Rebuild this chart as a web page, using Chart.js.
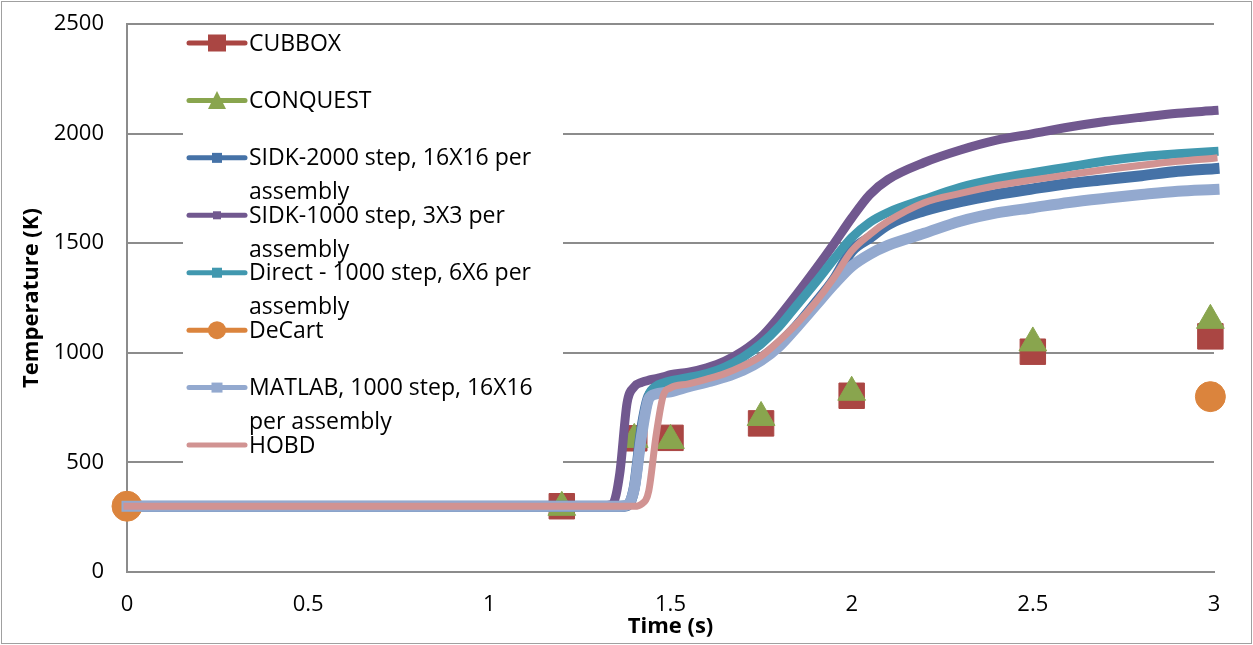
<!DOCTYPE html>
<html>
<head>
<meta charset="utf-8">
<title>Temperature vs Time</title>
<script src="https://cdn.jsdelivr.net/npm/chart.js@4/dist/chart.umd.min.js"></script>
<style>
  html, body { margin: 0; padding: 0; background: #fff; }
  #wrap { width: 1253px; height: 645px; }
</style>
</head>
<body>
<div id="wrap"><canvas id="chart" width="1253" height="645"></canvas></div>
<script>
// Common time grid (s) for the simulated temperature histories
const timeGrid = [0, 1.30, 1.34, 1.36, 1.38, 1.40, 1.42, 1.44, 1.46, 1.48, 1.50, 1.55, 1.60, 1.65, 1.70, 1.75,
                  1.80, 1.85, 1.90, 1.95, 2.00, 2.05, 2.10, 2.20, 2.30, 2.40, 2.50, 2.60, 2.70, 2.80, 2.90, 3.00];

// Temperature (K) on timeGrid
const sidk2000 = [300, 300, 300, 300, 303, 385, 645, 800, 828, 838, 843, 855, 872, 895, 930, 975,
                  1040, 1125, 1225, 1330, 1465, 1525, 1585, 1648, 1690, 1722, 1748, 1772, 1790, 1808, 1828, 1840];
const sidk1000 = [300, 300, 310, 450, 770, 845, 865, 875, 882, 890, 900, 912, 932, 962, 1008, 1072,
                  1165, 1270, 1380, 1495, 1615, 1722, 1790, 1868, 1925, 1970, 2000, 2030, 2055, 2075, 2093, 2105];
const direct1000 = [300, 300, 300, 300, 302, 380, 640, 805, 848, 862, 872, 888, 905, 935, 980, 1040,
                    1120, 1220, 1320, 1425, 1525, 1595, 1640, 1700, 1755, 1793, 1822, 1848, 1875, 1895, 1908, 1918];
const matlab1000 = [300, 300, 300, 300, 305, 380, 620, 790, 812, 818, 822, 845, 866, 889, 920, 965,
                    1030, 1120, 1215, 1310, 1395, 1450, 1490, 1545, 1600, 1638, 1662, 1686, 1705, 1722, 1737, 1745];
const hobd = [300, 300, 300, 300, 300, 300, 310, 370, 620, 805, 840, 858, 880, 905, 940, 985,
              1055, 1135, 1230, 1340, 1465, 1540, 1600, 1685, 1727, 1763, 1789, 1813, 1836, 1856, 1874, 1888];

// Reference code results
const benchTime = [1.2, 1.4, 1.5, 1.75, 2.0, 2.5, 2.99];
const cubbox = [300, 610, 612, 678, 804, 1005, 1075];
const conquest = [295, 605, 600, 705, 820, 1045, 1148];
const decartTime = [0, 2.99];
const decart = [300, 800];

// Axis ticks
const xTicks = [0, 0.5, 1, 1.5, 2, 2.5, 3];
const yTicks = [0, 500, 1000, 1500, 2000, 2500];

const FONT = '"Open Sans", "Liberation Sans", sans-serif';

const pts = (xs, ys) => xs.map((x, i) => ({ x: x, y: ys[i] }));

const curve = (label, values, color, width, order) => ({
  label: label,
  data: pts(timeGrid, values),
  showLine: true,
  borderColor: color,
  backgroundColor: color,
  borderWidth: width,
  borderCapStyle: 'square',
  borderJoinStyle: 'round',
  cubicInterpolationMode: 'monotone',
  pointRadius: 0,
  pointHoverRadius: 0,
  clip: false,
  order: order
});

const markers = (label, xs, ys, color, style, radius, order) => ({
  label: label,
  data: pts(xs, ys),
  showLine: false,
  pointStyle: style,
  pointRadius: radius,
  pointHoverRadius: radius,
  pointBackgroundColor: color,
  pointBorderColor: color,
  pointBorderWidth: 1,
  borderColor: color,
  backgroundColor: color,
  clip: false,
  order: order
});

const COLORS = {
  cubbox: '#AA4643',
  conquest: '#89A54E',
  sidk2000: '#4572A7',
  sidk1000: '#71588F',
  direct: '#4198AF',
  decart: '#DB843D',
  matlab: '#93A9CF',
  hobd: '#D19392'
};

const datasets = [
  markers('CUBBOX', benchTime, cubbox, COLORS.cubbox, 'rect', 18, 8),
  markers('CONQUEST', benchTime, conquest, COLORS.conquest, 'triangle', 16, 7),
  curve('SIDK-2000 step, 16X16 per assembly', sidk2000, COLORS.sidk2000, 11, 6),
  curve('SIDK-1000 step, 3X3 per assembly', sidk1000, COLORS.sidk1000, 9, 5),
  curve('Direct - 1000 step, 6X6 per assembly', direct1000, COLORS.direct, 9, 4),
  markers('DeCart', decartTime, decart, COLORS.decart, 'circle', 15, 3),
  curve('MATLAB, 1000 step, 16X16 per assembly', matlab1000, COLORS.matlab, 11, 2),
  curve('HOBD', hobd, COLORS.hobd, 7, 1)
];

// Legend entries: wrapped text lines and the marker drawn on the sample line
const legendEntries = [
  { lines: ['CUBBOX'], color: COLORS.cubbox, marker: 'square', w: 18, h: 17 },
  { lines: ['CONQUEST'], color: COLORS.conquest, marker: 'triangle', w: 18, h: 17 },
  { lines: ['SIDK-2000 step, 16X16 per', 'assembly'], color: COLORS.sidk2000, marker: 'square', w: 10, h: 10 },
  { lines: ['SIDK-1000 step, 3X3 per', 'assembly'], color: COLORS.sidk1000, marker: 'square', w: 8, h: 8 },
  { lines: ['Direct - 1000 step, 6X6 per', 'assembly'], color: COLORS.direct, marker: 'square', w: 10, h: 10 },
  { lines: ['DeCart'], color: COLORS.decart, marker: 'circle', w: 18, h: 18 },
  { lines: ['MATLAB, 1000 step, 16X16', 'per assembly'], color: COLORS.matlab, marker: 'square', w: 11, h: 10 },
  { lines: ['HOBD'], color: COLORS.hobd, marker: null }
];

const insetLegend = {
  id: 'insetLegend',
  afterDraw(chart) {
    const ctx = chart.ctx;
    const area = chart.chartArea;
    const boxX = area.left + 56, boxY = area.top + 2;
    const boxW = 563 - boxX, boxH = 470 - boxY;
    const lineX0 = area.left + 62, lineX1 = area.left + 118;
    const textX = area.left + 122;
    const firstY = area.top + 19, step = 57.43, lineGap = 34;
    ctx.save();
    ctx.fillStyle = '#ffffff';
    ctx.fillRect(boxX, boxY, boxW, boxH);
    ctx.font = '23px ' + FONT;
    ctx.textAlign = 'left';
    ctx.textBaseline = 'middle';
    legendEntries.forEach((e, i) => {
      const y = firstY + i * step;
      ctx.strokeStyle = e.color;
      ctx.lineWidth = 5;
      ctx.lineCap = 'round';
      ctx.beginPath();
      ctx.moveTo(lineX0, y);
      ctx.lineTo(lineX1, y);
      ctx.stroke();
      const mx = (lineX0 + lineX1) / 2;
      ctx.fillStyle = e.color;
      if (e.marker === 'square') {
        ctx.fillRect(mx - e.w / 2, y - e.h / 2, e.w, e.h);
      } else if (e.marker === 'triangle') {
        ctx.beginPath();
        ctx.moveTo(mx, y - e.h / 2 - 1);
        ctx.lineTo(mx + e.w / 2, y + e.h / 2);
        ctx.lineTo(mx - e.w / 2, y + e.h / 2);
        ctx.closePath();
        ctx.fill();
      } else if (e.marker === 'circle') {
        ctx.beginPath();
        ctx.arc(mx, y, e.w / 2, 0, Math.PI * 2);
        ctx.fill();
      }
      ctx.fillStyle = '#000000';
      e.lines.forEach((t, k) => ctx.fillText(t, textX, y + 1 + k * lineGap));
    });
    ctx.restore();
  }
};

const frame = {
  id: 'frame',
  afterDraw(chart) {
    const ctx = chart.ctx;
    ctx.save();
    ctx.strokeStyle = '#a0a0a0';
    ctx.lineWidth = 1;
    ctx.strokeRect(1.5, 1.5, chart.width - 3, chart.height - 3);
    ctx.restore();
  }
};

// Fixed axis box sizes; overflow padding is covered by the layout padding
const fixBox = (size, horizontal) => (scale) => {
  if (horizontal) scale.height = size; else scale.width = size;
  scale.paddingTop = 0; scale.paddingBottom = 0;
  scale.paddingLeft = 0; scale.paddingRight = 0;
};

new Chart(document.getElementById('chart'), {
  type: 'scatter',
  data: { datasets: datasets },
  plugins: [insetLegend, frame],
  options: {
    responsive: false,
    animation: false,
    devicePixelRatio: 1,
    layout: { padding: { left: 0, top: 24, right: 39, bottom: 0 } },
    plugins: {
      legend: { display: false },
      tooltip: { enabled: false }
    },
    scales: {
      x: {
        type: 'linear',
        min: xTicks[0],
        max: xTicks[xTicks.length - 1],
        afterBuildTicks: (scale) => { scale.ticks = xTicks.map(v => ({ value: v })); },
        afterFit: fixBox(73, true),
        grid: { display: false, drawTicks: false },
        border: { display: true, color: '#8c8c8c', width: 2 },
        ticks: { color: '#000', font: { family: FONT, size: 22 }, padding: 20, maxRotation: 0,
                 callback: (v) => String(v) },
        title: { display: true, text: 'Time (s)', color: '#000', font: { family: FONT, size: 22, weight: 'bold' }, padding: { top: 0, bottom: 5 } }
      },
      y: {
        type: 'linear',
        min: yTicks[0],
        max: yTicks[yTicks.length - 1],
        afterBuildTicks: (scale) => { scale.ticks = yTicks.map(v => ({ value: v })); },
        afterFit: fixBox(127, false),
        grid: { display: true, color: '#8c8c8c', lineWidth: 2, drawTicks: false },
        border: { display: true, color: '#8c8c8c', width: 2 },
        ticks: { color: '#000', font: { family: FONT, size: 22 }, padding: 23,
                 callback: (v) => String(v) },
        title: { display: true, text: 'Temperature (K)', color: '#000', font: { family: FONT, size: 22, weight: 'bold' }, padding: { top: 19, bottom: 0 } }
      }
    }
  }
});
</script>
</body>
</html>
